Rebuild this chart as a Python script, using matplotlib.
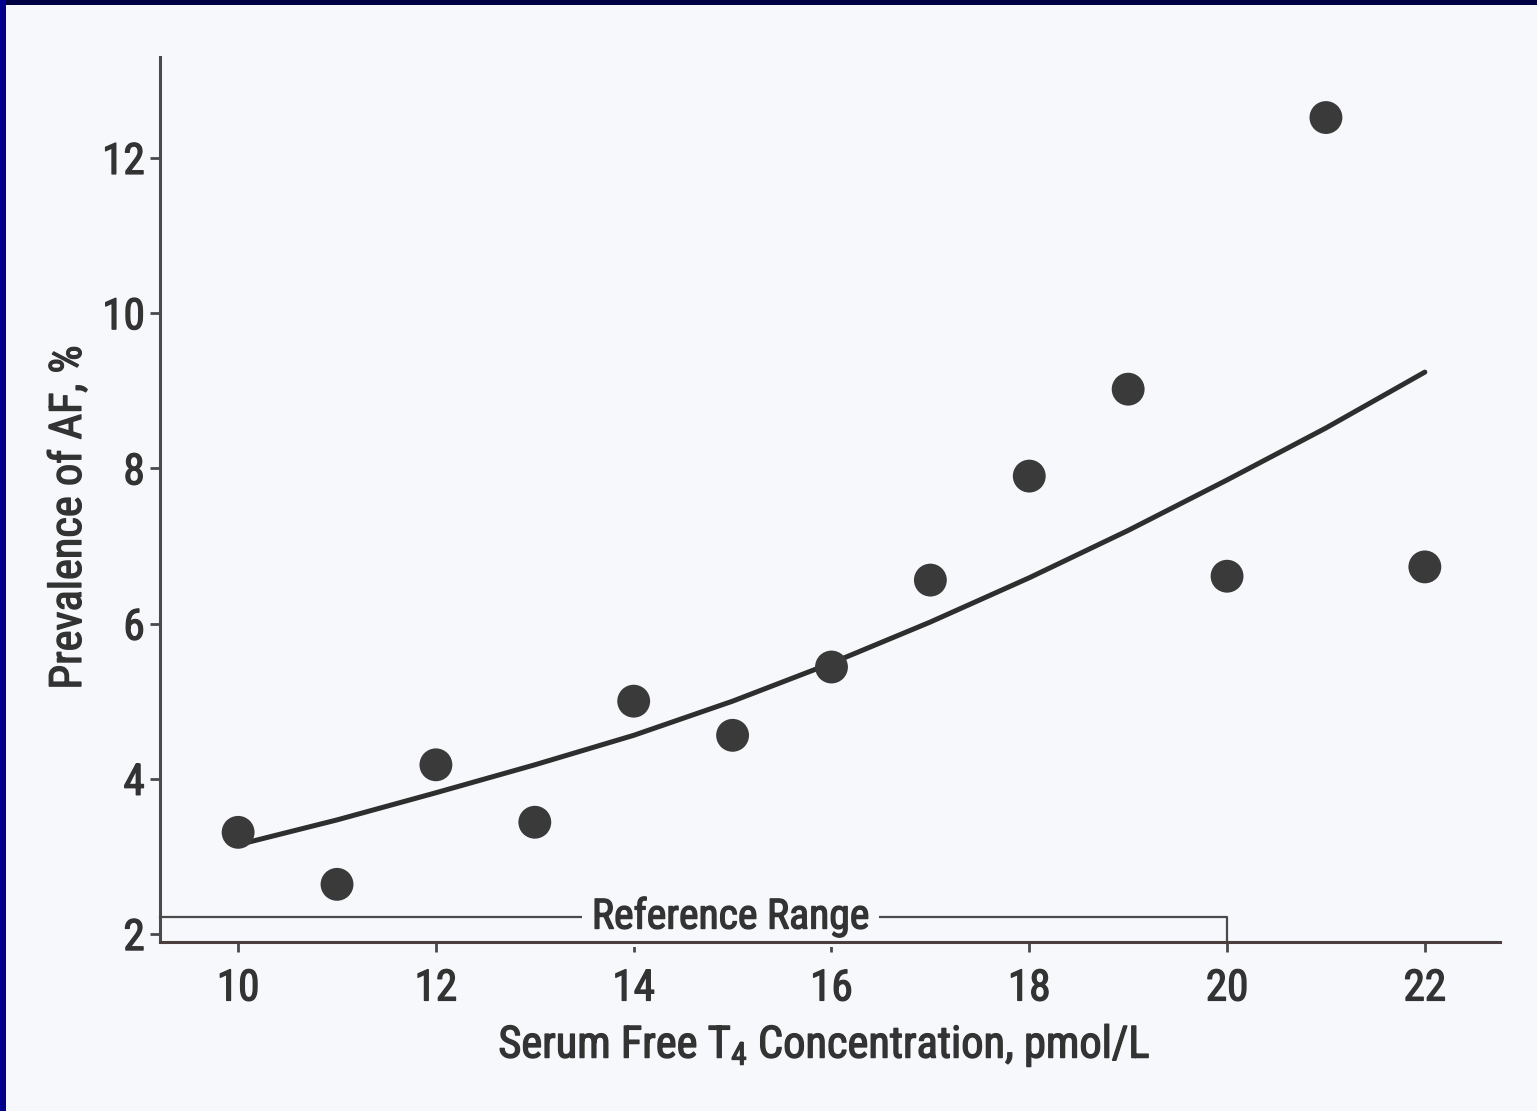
#!/usr/bin/env python3
"""AF prevalence vs serum free T4 concentration, with fitted trend and reference range."""

import matplotlib
matplotlib.use("Agg")
import matplotlib.pyplot as plt
import matplotlib.patheffects as pe
from matplotlib import font_manager
from matplotlib.patches import Rectangle

# Observed prevalence at each free T4 level (pmol/L)
ft4_levels = [10, 11, 12, 13, 14, 15, 16, 17, 18, 19, 20, 21, 22]
af_prevalence = [3.31, 2.64, 4.18, 3.44, 5.00, 4.56, 5.44, 6.56, 7.90, 9.02, 6.61, 12.52, 6.73]

# Fitted trend line
trend_x = [10, 11, 12, 13, 14, 15, 16, 17, 18, 19, 20, 21, 22]
trend_y = [3.15, 3.47, 3.82, 4.18, 4.56, 5.00, 5.49, 6.02, 6.59, 7.20, 7.85, 8.52, 9.24]

x_ticks = [10, 12, 14, 16, 18, 20, 22]
y_ticks = [2, 4, 6, 8, 10, 12]

ref_range_end = 20
ref_range_level = 2.22

PAPER = "#f6f8fb"
INK = "#333333"

# prefer a narrow grotesque if one is around
installed = {f.name for f in font_manager.fontManager.ttflist}
choices = ["Liberation Sans Narrow", "Arial Narrow", "Roboto Condensed",
           "DejaVu Sans Condensed", "Liberation Sans", "DejaVu Sans"]
family = [c for c in choices if c in installed] or ["DejaVu Sans"]
plt.rcParams["font.family"] = family
plt.rcParams["font.stretch"] = "condensed"
plt.rcParams["mathtext.default"] = "regular"

# slightly heavier strokes than the regular cut
heavier = [pe.withStroke(linewidth=1.0, foreground=INK)]

fig = plt.figure(figsize=(15.37, 11.11), dpi=100)
fig.patch.set_facecolor(PAPER)

# dark slide frame along the top and left edges
fig.patches.append(Rectangle((0, 1 - 5 / 1111), 1, 5 / 1111, transform=fig.transFigure,
                             facecolor="#000044", edgecolor="none", zorder=10))
fig.patches.append(Rectangle((0, 0), 6 / 1537, 1, transform=fig.transFigure,
                             facecolor="#00008a", edgecolor="none", zorder=10))

ax = fig.add_axes([160 / 1537, 1 - 942 / 1111, 1340 / 1537, 885 / 1111])
ax.set_facecolor(PAPER)

x_lo, x_hi = 9.21, 22.76
y_lo, y_hi = 1.897, 13.30
ax.set_xlim(x_lo, x_hi)
ax.set_ylim(y_lo, y_hi)

ax.plot(trend_x, trend_y, color="#2e2e2e", linewidth=3.6, solid_capstyle="round", zorder=3)
ax.scatter(ft4_levels, af_prevalence, s=560, color="#3a3a3a", edgecolors="none", zorder=4)

# reference range bracket just above the x-axis
ax.plot([x_lo, ref_range_end, ref_range_end], [ref_range_level, ref_range_level, y_lo],
        color="#4a4a4a", linewidth=1.6, clip_on=False, zorder=2)
ref_label = ax.text(14.98, ref_range_level, "Reference Range", ha="center", va="center",
                    fontsize=30, color=INK, zorder=2.2,
                    bbox=dict(facecolor=PAPER, edgecolor="none", pad=7))
ref_label.set_path_effects(heavier)

for side in ["top", "right"]:
    ax.spines[side].set_visible(False)
ax.spines["left"].set_color("#4a4a4a")
ax.spines["bottom"].set_color("#4a3e3e")
ax.spines["left"].set_linewidth(2.2)
ax.spines["bottom"].set_linewidth(2.2)

ax.set_xticks(x_ticks)
ax.set_yticks(y_ticks)
ax.tick_params(axis="both", direction="out", length=7, width=2, colors="#4a4a4a",
               labelsize=31, labelcolor=INK)
ax.tick_params(axis="x", pad=12)
ax.tick_params(axis="y", pad=4)
for lbl in ax.get_xticklabels() + ax.get_yticklabels():
    lbl.set_path_effects(heavier)

ax.set_xlabel("Serum Free T$_4$ Concentration, pmol/L", fontsize=32, color=INK)
ax.xaxis.set_label_coords(0.496, -0.117)
ax.xaxis.label.set_va("center")
ax.xaxis.label.set_path_effects(heavier)
ax.set_ylabel("Prevalence of AF, %", fontsize=32, color=INK)
ax.yaxis.set_label_coords(-0.068, 0.48)
ax.yaxis.label.set_va("center")
ax.yaxis.label.set_path_effects(heavier)

fig.savefig("out.png", dpi=100, facecolor=PAPER)
